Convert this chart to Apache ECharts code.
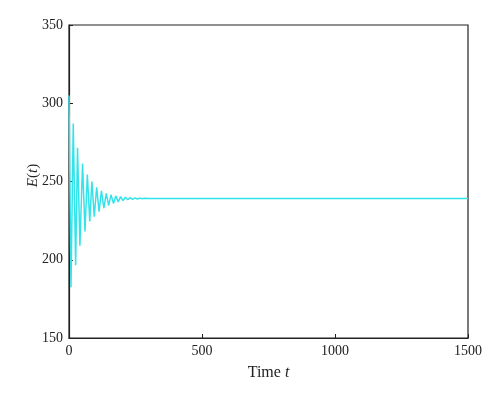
<!DOCTYPE html>
<html>
<head>
<meta charset="utf-8">
<script src="https://cdn.jsdelivr.net/npm/echarts@6/dist/echarts.min.js"></script>
<style>html,body{margin:0;padding:0;background:#fff;}#c{width:500px;height:400px;}</style>
</head>
<body>
<div id="c"></div>
<script>
const timeT = [0, 7.5, 16, 25, 32, 41, 51, 60, 69, 78, 86, 95, 104, 113, 122, 131, 140, 149, 158, 167, 176, 185, 194, 203, 212, 221, 230, 239, 248, 257, 266, 275, 284, 300, 1500];
const energyE = [305, 182.5, 287, 196.5, 271.5, 209, 261.5, 218, 254.5, 224.5, 250, 227.5, 246.3, 230.7, 244, 233, 242.4, 234.6, 241.5, 236, 240.8, 237, 240.3, 237.8, 239.9, 238.3, 239.7, 238.6, 239.5, 238.8, 239.4, 239.0, 239.3, 239.2, 239.2];
const xTicks = [0, 500, 1000, 1500];
const yTicks = [150, 200, 250, 300, 350];

const data = timeT.map((t, i) => [t, energyE[i]]);
const font = 'Liberation Serif';
const chart = echarts.init(document.getElementById('c'));
chart.setOption({
  animation: false,
  backgroundColor: '#fff',
  grid: {left: 69, right: 32, top: 25, bottom: 62, show: true, borderColor: '#222', borderWidth: 1.2},
  xAxis: {
    type: 'value', min: xTicks[0], max: xTicks[xTicks.length - 1], interval: 500,
    name: 'Time {i|t}', nameLocation: 'middle', nameGap: 27,
    nameTextStyle: {fontFamily: font, fontSize: 16, color: '#222', rich: {i: {fontFamily: font, fontStyle: 'italic', fontSize: 16, color: '#222'}}},
    axisLine: {show: true, lineStyle: {color: '#222', width: 1.2}},
    axisTick: {show: true, inside: true, length: 4, lineStyle: {color: '#222'}},
    axisLabel: {fontFamily: font, fontSize: 14, color: '#222', margin: 6, formatter: v => String(v)},
    splitLine: {show: false}
  },
  yAxis: {
    type: 'value', min: yTicks[0], max: yTicks[yTicks.length - 1], interval: 50,
    name: '{i|E}({i|t})', nameLocation: 'middle', nameGap: 28, nameRotate: 90, nameMoveOverlap: false,
    nameTextStyle: {fontFamily: font, fontSize: 15, color: '#222', padding: [0, 0, 0, 12], rich: {i: {fontFamily: font, fontStyle: 'italic', fontSize: 15, color: '#222'}}},
    axisLine: {show: true, lineStyle: {color: '#222', width: 1.2}},
    axisTick: {show: true, inside: true, length: 4, lineStyle: {color: '#222'}},
    axisLabel: {fontFamily: font, fontSize: 14, color: '#222', margin: 6, formatter: v => String(v)},
    splitLine: {show: false}
  },
  series: [{
    type: 'line', data: data, showSymbol: false, symbol: 'none',
    lineStyle: {color: '#33e3ea', width: 1.5}
  }]
});
</script>
</body>
</html>
